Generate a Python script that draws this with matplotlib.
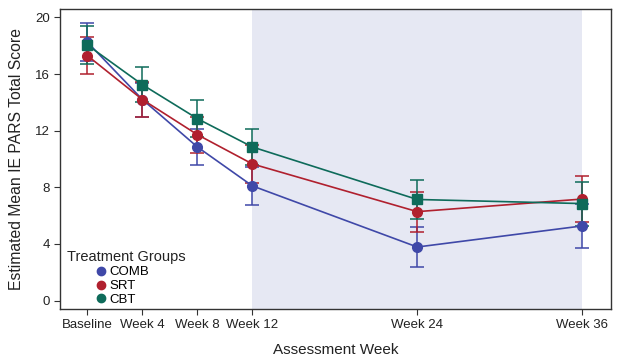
import matplotlib.pyplot as plt
from matplotlib.lines import Line2D

plt.rcParams['font.family'] = ['Liberation Sans', 'DejaVu Sans']

weeks = [0, 4, 8, 12, 24, 36]
week_labels = ['Baseline', 'Week 4', 'Week 8', 'Week 12', 'Week 24', 'Week 36']

groups = ['COMB', 'SRT', 'CBT']
comb = [18.25, 14.2, 10.85, 8.1, 3.78, 5.27]
srt = [17.3, 14.2, 11.72, 9.65, 6.28, 7.17]
cbt = [18.05, 15.25, 12.85, 10.85, 7.14, 6.85]

comb_lo = [16.9, 13.0, 9.55, 6.75, 2.35, 3.7]
comb_hi = [19.6, 15.4, 12.15, 9.45, 5.2, 6.85]
srt_lo = [16.0, 12.95, 10.45, 8.3, 4.85, 5.55]
srt_hi = [18.6, 15.45, 13.0, 11.0, 7.7, 8.78]
cbt_lo = [16.7, 14.0, 11.55, 9.55, 5.75, 5.3]
cbt_hi = [19.4, 16.5, 14.15, 12.15, 8.55, 8.38]

colors = ['#3f48a8', '#b0202e', '#0e6b5a']
markers = ['o', 'o', 's']

fig = plt.figure(figsize=(6.21, 3.58), dpi=100)
ax = fig.add_axes([60 / 621, 1 - 309 / 358, 551 / 621, 300 / 358])

ax.axvspan(12, 36, color='#e6e8f3', zorder=0, lw=0)

series = [(comb, comb_lo, comb_hi), (srt, srt_lo, srt_hi), (cbt, cbt_lo, cbt_hi)]
for (vals, lo, hi), c, m in zip(series, colors, markers):
    yerr = [[v - l for v, l in zip(vals, lo)], [h - v for v, h in zip(vals, hi)]]
    ax.errorbar(weeks, vals, yerr=yerr, color=c, marker=m, markersize=7,
                lw=1.2, elinewidth=1.1, capsize=5, capthick=1.1, zorder=3)

ax.set_xlim(-2, 38.1)
ax.set_ylim(-0.6, 20.6)
ax.set_xticks(weeks)
ax.set_xticklabels(week_labels, fontsize=9.5, color='#222222')
ax.set_yticks([0, 4, 8, 12, 16, 20])
ax.tick_params(axis='y', labelsize=9.5, labelcolor='#222222')
ax.tick_params(direction='out', length=4, color='#333333')
for s in ax.spines.values():
    s.set_color('#333333')
    s.set_linewidth(1.0)

ax.set_xlabel('Assessment Week', fontsize=11, color='#222222', labelpad=8)
ax.set_ylabel('Estimated Mean IE PARS Total Score', fontsize=11.3, color='#222222', labelpad=8)

# legend: title flush left, entries indented
ax.text(7 / 551, 1 - (257 - 9) / 300, 'Treatment Groups', transform=ax.transAxes,
        fontsize=10.5, color='#222222', va='center', ha='left')
handles = [Line2D([], [], ls='none', marker='o', color=c, markersize=6) for c in colors]
leg = ax.legend(handles, groups, loc='lower left', frameon=False, fontsize=9.5,
                handlelength=1.0, handletextpad=0.15, labelspacing=0.12,
                borderpad=0, borderaxespad=0,
                bbox_to_anchor=(34 / 551, 3 / 300))

fig.savefig('out.png', dpi=100)
